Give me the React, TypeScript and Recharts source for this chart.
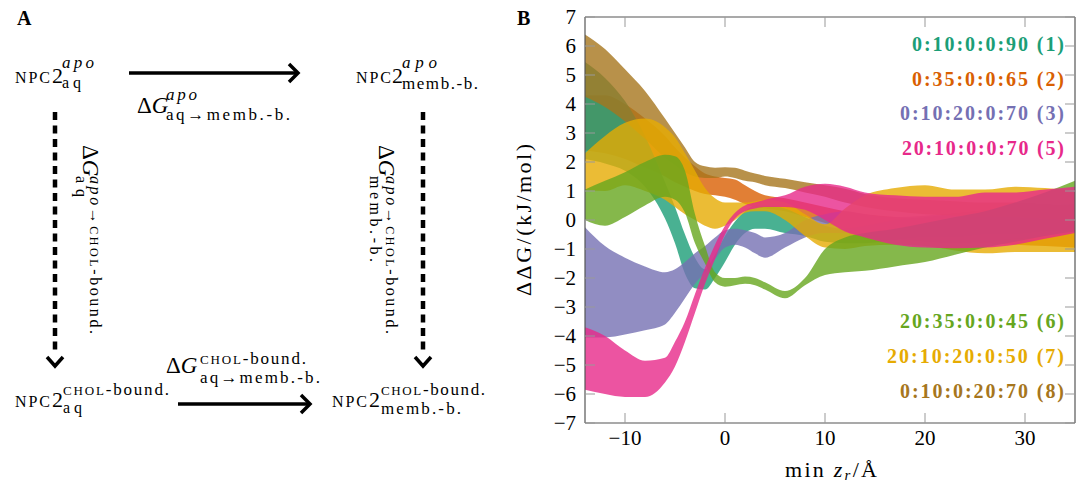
import React from "react";
import { ComposedChart, Area, XAxis, YAxis } from "recharts";

const serif = "'Liberation Serif', 'DejaVu Serif', serif";

// min z_r grid (Angstrom)
const zGrid = [-14, -12, -10, -8, -6, -5, -4, -3, -2, -1, 0, 1, 2, 3, 4, 6, 8, 10, 12, 14, 17, 20, 23, 26, 29, 32, 35];

// 0:10:0:0:90 (1)
const lo1 = [2.1, 1.95, 1.7, 1.15, 0.05, -0.8, -1.85, -2.35, -2.4, -2.0, -1.45, -0.85, -0.45, -0.3, -0.3, -0.45, -0.55, -0.75, -0.8, -0.8, -0.7, -0.6, -0.6, -0.5, -0.5, -0.4, -0.4];
const hi1 = [5.45, 4.9, 4.1, 2.9, 1.3, 0.45, -0.5, -1.3, -1.7, -1.2, -0.55, -0.05, 0.3, 0.5, 0.5, 0.4, 0.1, -0.2, -0.3, -0.2, 0.0, 0.1, 0.2, 0.2, 0.3, 0.3, 0.4];
// 0:35:0:0:65 (2)
const lo2 = [2.4, 2.3, 2.1, 1.8, 1.5, 1.3, 1.15, 1.0, 0.9, 0.85, 0.8, 0.7, 0.55, 0.45, 0.4, 0.3, 0.1, -0.1, -0.3, -0.4, -0.5, -0.6, -0.7, -0.8, -0.85, -0.9, -0.95];
const hi2 = [4.3, 4.3, 4.0, 3.5, 2.9, 2.5, 2.15, 1.85, 1.6, 1.5, 1.45, 1.4, 1.2, 1.0, 0.85, 0.75, 0.6, 0.45, 0.3, 0.2, 0.1, 0.0, -0.1, -0.2, -0.3, -0.4, -0.4];
// 0:10:20:0:70 (3)
const lo3 = [-4.05, -4.05, -3.95, -3.8, -3.6, -3.2, -2.7, -2.2, -1.8, -1.35, -0.95, -0.85, -0.95, -1.15, -1.3, -0.95, -0.6, -0.45, -0.45, -0.55, -0.65, -0.75, -0.8, -0.75, -0.65, -0.55, -0.45];
const hi3 = [-0.25, -0.9, -1.3, -1.6, -1.8, -1.7, -1.45, -1.15, -0.9, -0.6, -0.35, -0.3, -0.35, -0.45, -0.6, -0.45, 0.0, 0.2, 0.3, 0.2, 0.1, 0.15, 0.25, 0.35, 0.45, 0.5, 0.55];
// 20:10:0:0:70 (5)
const lo5 = [-5.85, -6.0, -6.1, -6.1, -5.6, -5.05, -4.2, -3.2, -2.2, -1.35, -0.5, 0.05, 0.3, 0.4, 0.45, 0.45, 0.35, 0.0, -0.4, -0.6, -0.85, -0.95, -0.97, -0.95, -0.85, -0.65, -0.45];
const hi5 = [-3.7, -4.0, -4.5, -4.85, -4.75, -4.2, -3.5, -2.55, -1.65, -0.85, -0.2, 0.25, 0.5, 0.6, 0.7, 0.85, 1.15, 1.25, 1.15, 0.95, 0.85, 0.8, 0.8, 0.95, 0.95, 1.05, 1.15];
// 20:35:0:0:45 (6)
const lo6 = [0.0, -0.2, 0.1, 0.5, 0.8, 0.7, 0.25, -0.8, -1.5, -2.15, -2.3, -2.25, -2.2, -2.25, -2.4, -2.7, -2.25, -1.9, -1.8, -1.75, -1.6, -1.45, -1.2, -0.95, -0.75, -0.55, -0.4];
const hi6 = [1.05, 1.35, 1.65, 2.0, 2.25, 2.2, 1.7, 0.2, -0.9, -1.8, -2.0, -2.0, -1.95, -2.0, -2.15, -2.45, -2.0, -1.0, -0.6, -0.45, -0.3, -0.1, 0.1, 0.3, 0.6, 0.95, 1.35];
// 20:10:20:0:50 (7)
const lo7 = [1.03, 1.0, 1.2, 1.0, 0.7, 0.45, 0.2, 0.0, -0.2, -0.3, -0.2, 0.0, 0.25, 0.3, 0.3, 0.0, -0.55, -0.95, -1.0, -0.9, -0.85, -0.9, -1.05, -1.15, -1.1, -1.1, -1.1];
const hi7 = [2.3, 2.9, 3.35, 3.5, 3.2, 2.85, 2.3, 1.7, 1.1, 0.75, 0.6, 0.6, 0.6, 0.65, 0.7, 0.6, 0.2, -0.15, 0.4, 0.85, 1.1, 1.2, 1.05, 1.05, 1.15, 1.1, 1.0];
// 0:10:0:20:70 (8)
const lo8 = [4.25, 3.9, 3.4, 2.8, 2.15, 1.9, 1.65, 1.5, 1.45, 1.45, 1.5, 1.45, 1.35, 1.3, 1.2, 1.1, 0.95, 0.8, 0.6, 0.45, 0.3, 0.2, 0.15, 0.1, 0.1, 0.05, 0.0];
const hi8 = [6.4, 5.9, 5.2, 4.45, 3.5, 3.0, 2.5, 2.0, 1.85, 1.8, 1.82, 1.8, 1.7, 1.6, 1.52, 1.42, 1.3, 1.2, 1.08, 0.9, 0.75, 0.7, 0.65, 0.6, 0.6, 0.55, 0.5];

const xTicks = [-10, 0, 10, 20, 30];
const yTicks = [-7, -6, -5, -4, -3, -2, -1, 0, 1, 2, 3, 4, 5, 6, 7];

const bands = [
  { key: "b1", lo: lo1, hi: hi1, color: "#1b9e77", label: "0:10:0:0:90 (1)" },
  { key: "b2", lo: lo2, hi: hi2, color: "#d95f02", label: "0:35:0:0:65 (2)" },
  { key: "b3", lo: lo3, hi: hi3, color: "#7570b3", label: "0:10:20:0:70 (3)" },
  { key: "b5", lo: lo5, hi: hi5, color: "#e7298a", label: "20:10:0:0:70 (5)" },
  { key: "b6", lo: lo6, hi: hi6, color: "#66a61e", label: "20:35:0:0:45 (6)" },
  { key: "b7", lo: lo7, hi: hi7, color: "#e6ab02", label: "20:10:20:0:50 (7)" },
  { key: "b8", lo: lo8, hi: hi8, color: "#a6761d", label: "0:10:0:20:70 (8)" },
];

// stacking order of the filled bands (bottom first)
const drawOrder = ["b2", "b1", "b3", "b8", "b7", "b6", "b5"];

const rows = zGrid.map((z, i) => {
  const r: any = { z };
  bands.forEach((b) => {
    r[b.key] = [b.lo[i], b.hi[i]];
  });
  return r;
});

// legend text placement: [right edge, baseline, width]
const legendPos = [
  [1064, 51, 152],
  [1064, 86, 152],
  [1064, 120, 164],
  [1064, 155, 162],
  [1064, 328, 164],
  [1064, 363, 177],
  [1064, 398, 164],
];

const fmt = (v: number) => (v < 0 ? `\u2212${-v}` : `${v}`);

function PanelA() {
  const t = { fontFamily: serif, fill: "#000" } as any;
  const sc = (s: string, size = 14) => <tspan fontSize={size}>{s}</tspan>;
  return (
    <svg width={540} height={486} style={{ position: "absolute", left: 0, top: 0 }}>
      <text {...t} x={17} y={25} fontSize={20} fontWeight="bold">A</text>
      <text {...t} x={517} y={25} fontSize={20} fontWeight="bold">B</text>

      {/* top left */}
      <text {...t} x={15} y={83} fontSize={16} textLength={35}>NPC</text>
      <text {...t} x={52} y={83} fontSize={22}>2</text>
      <text {...t} x={62} y={68} fontSize={17} fontStyle="italic" textLength={32}>apo</text>
      <text {...t} x={62} y={88} fontSize={16} textLength={19}>aq</text>

      <line x1={129} y1={73} x2={297} y2={73} stroke="#000" strokeWidth={3.5} />
      <polyline points="289,64 298,73 289,82" fill="none" stroke="#000" strokeWidth={3.5} />

      <text {...t} x={137} y={113} fontSize={23}>Δ<tspan fontStyle="italic">G</tspan></text>
      <text {...t} x={166} y={100} fontSize={17} fontStyle="italic" textLength={31}>apo</text>
      <text {...t} x={166} y={120} fontSize={17} textLength={124}>aq→memb.-b.</text>

      {/* top right */}
      <text {...t} x={356} y={83} fontSize={16} textLength={35}>NPC</text>
      <text {...t} x={392} y={83} fontSize={22}>2</text>
      <text {...t} x={402} y={68} fontSize={17} fontStyle="italic" textLength={35}>apo</text>
      <text {...t} x={402} y={89} fontSize={17} textLength={76}>memb.-b.</text>

      {/* dashed verticals */}
      <line x1={55} y1={112} x2={55} y2={352} stroke="#000" strokeWidth={4.5} strokeDasharray="8 5.5" />
      <polyline points="47,357 55,366 63,357" fill="none" stroke="#000" strokeWidth={3.5} />
      <line x1={423} y1={112} x2={423} y2={352} stroke="#000" strokeWidth={4.5} strokeDasharray="8 5.5" />
      <polyline points="415,357 423,366 431,357" fill="none" stroke="#000" strokeWidth={3.5} />

      {/* rotated left */}
      <g transform="translate(83,145) rotate(90)">
        <text {...t} x={0} y={0} fontSize={23}>Δ<tspan fontStyle="italic">G</tspan></text>
      </g>
      <g transform="translate(90,176) rotate(90)">
        <text {...t} x={0} y={0} fontSize={16} textLength={158}>
          <tspan fontStyle="italic">apo</tspan>→{sc("CHOL", 12)}-bound.
        </text>
      </g>
      <g transform="translate(76,176) rotate(90)">
        <text {...t} x={0} y={0} fontSize={16} textLength={21}>aq</text>
      </g>

      {/* rotated right */}
      <g transform="translate(379,145) rotate(90)">
        <text {...t} x={0} y={0} fontSize={23}>Δ<tspan fontStyle="italic">G</tspan></text>
      </g>
      <g transform="translate(386,176) rotate(90)">
        <text {...t} x={0} y={0} fontSize={16} textLength={158}>
          <tspan fontStyle="italic">apo</tspan>→{sc("CHOL", 12)}-bound.
        </text>
      </g>
      <g transform="translate(370,176) rotate(90)">
        <text {...t} x={0} y={0} fontSize={16} textLength={86}>memb.-b.</text>
      </g>

      {/* bottom left */}
      <text {...t} x={15} y={407} fontSize={16} textLength={35}>NPC</text>
      <text {...t} x={52} y={407} fontSize={22}>2</text>
      <text {...t} x={63} y={395} fontSize={17} textLength={106}>{sc("CHOL", 13)}-bound.</text>
      <text {...t} x={63} y={413} fontSize={16} textLength={19}>aq</text>

      <line x1={178} y1={404} x2={309} y2={404} stroke="#000" strokeWidth={3.5} />
      <polyline points="301,395 310,404 301,413" fill="none" stroke="#000" strokeWidth={3.5} />

      <text {...t} x={166} y={373} fontSize={23}>Δ<tspan fontStyle="italic">G</tspan></text>
      <text {...t} x={200} y={364} fontSize={17} textLength={106}>{sc("CHOL", 13)}-bound.</text>
      <text {...t} x={200} y={383} fontSize={17} textLength={120}>aq→memb.-b.</text>

      {/* bottom right */}
      <text {...t} x={332} y={407} fontSize={16} textLength={35}>NPC</text>
      <text {...t} x={369} y={407} fontSize={22}>2</text>
      <text {...t} x={381} y={395} fontSize={17} textLength={104}>{sc("CHOL", 13)}-bound.</text>
      <text {...t} x={381} y={414} fontSize={17} textLength={80}>memb.-b.</text>
    </svg>
  );
}

function ChartText() {
  return (
    <svg width={1079} height={486} style={{ position: "absolute", left: 0, top: 0, pointerEvents: "none" }}>
      <text
        transform="translate(531,220) rotate(-90)"
        textAnchor="middle"
        fontFamily={serif}
        fontSize={22}
        textLength={152}
        lengthAdjust="spacing"
        fill="#000"
      >
        ΔΔG/(kJ/mol)
      </text>
      <text
        x={831}
        y={477}
        textAnchor="middle"
        fontFamily={serif}
        fontSize={22}
        textLength={92}
        lengthAdjust="spacing"
        fill="#000"
      >
        min <tspan fontStyle="italic">z</tspan>
        <tspan fontStyle="italic" fontSize={15} dy={3}>r</tspan>
        <tspan dy={-3}>/Å</tspan>
      </text>
      {bands.map((b, i) => (
        <text
          key={b.key}
          x={legendPos[i][0] - legendPos[i][2]}
          y={legendPos[i][1]}
          textLength={legendPos[i][2]}
          lengthAdjust="spacing"
          fontFamily={serif}
          fontWeight="bold"
          fontSize={20}
          fill={b.color}
        >
          {b.label}
        </text>
      ))}
    </svg>
  );
}

export default function App() {
  const tickStyle = { fill: "#000", fontSize: 21, fontFamily: serif };
  const axisLine = { stroke: "#555", strokeWidth: 1.2 };
  const tickLine = { stroke: "#999", strokeWidth: 1 };
  const ordered = drawOrder.map((k) => bands.find((b) => b.key === k)!);
  return (
    <div style={{ position: "absolute", left: 0, top: 0, width: 1079, height: 486, background: "#fff" }}>
      <PanelA />
      <div style={{ position: "absolute", left: 0, top: 0 }}>
        <ComposedChart
          width={1079}
          height={486}
          data={rows}
          margin={{ top: 16, right: 3, bottom: 33, left: 525 }}
        >
          <XAxis
            xAxisId="b"
            dataKey="z"
            type="number"
            domain={[-14, 35]}
            allowDataOverflow
            ticks={xTicks}
            height={30}
            tickSize={-10}
            tickMargin={17}
            tick={tickStyle}
            tickFormatter={fmt}
            axisLine={axisLine}
            tickLine={tickLine}
          />
          <XAxis
            xAxisId="t"
            dataKey="z"
            type="number"
            orientation="top"
            domain={[-14, 35]}
            allowDataOverflow
            ticks={xTicks}
            height={1}
            tickSize={-10}
            tickFormatter={() => ""}
            axisLine={axisLine}
            tickLine={tickLine}
          />
          <YAxis
            yAxisId="l"
            type="number"
            domain={[-7, 7]}
            allowDataOverflow
            ticks={yTicks}
            interval={0}
            width={60}
            tickSize={-10}
            tickMargin={19}
            tick={tickStyle}
            tickFormatter={fmt}
            axisLine={axisLine}
            tickLine={tickLine}
          />
          <YAxis
            yAxisId="r"
            orientation="right"
            type="number"
            domain={[-7, 7]}
            allowDataOverflow
            ticks={yTicks}
            interval={0}
            width={1}
            tickSize={-10}
            tickFormatter={() => ""}
            axisLine={axisLine}
            tickLine={tickLine}
          />
          {ordered.map((b) => (
            <Area
              key={b.key}
              xAxisId="b"
              yAxisId="l"
              dataKey={b.key}
              type="monotone"
              stroke="none"
              fill={b.color}
              fillOpacity={0.8}
              dot={false}
              activeDot={false}
              isAnimationActive={false}
            />
          ))}
        </ComposedChart>
      </div>
      <ChartText />
    </div>
  );
}
